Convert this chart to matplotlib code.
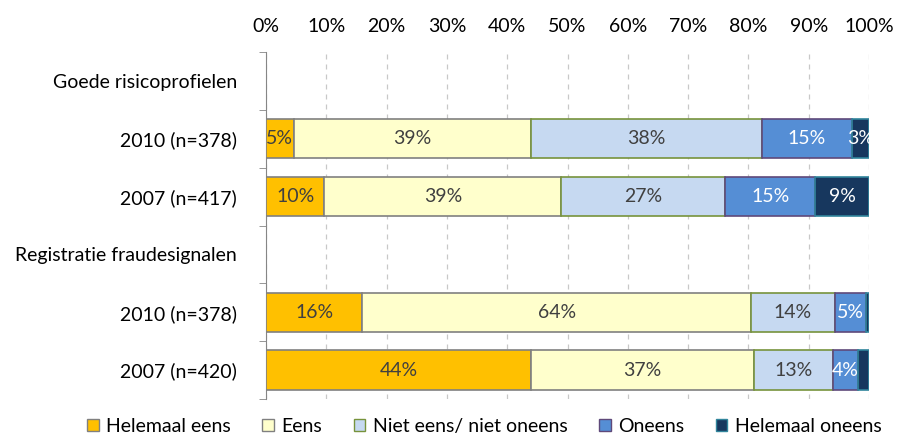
import numpy as np
import matplotlib
matplotlib.use("Agg")
from matplotlib import pyplot as plt
from matplotlib.patches import Patch

plt.rcParams['font.family'] = ['Lato', 'DejaVu Sans']

# rows from top to bottom; header rows have no bar
row_labels = ["Goede risicoprofielen", "2010 (n=378)", "2007 (n=417)",
              "Registratie fraudesignalen", "2010 (n=378)", "2007 (n=420)"]
series = ["Helemaal eens", "Eens", "Niet eens/ niet oneens", "Oneens", "Helemaal oneens"]

helemaal_eens = [0, 4.6, 9.7, 0, 16.0, 43.9]
eens = [0, 39.4, 39.3, 0, 64.4, 37.1]
niet_eens = [0, 38.3, 27.1, 0, 13.9, 13.0]
oneens = [0, 14.8, 15.0, 0, 5.2, 4.1]
helemaal_oneens = [0, 2.9, 8.9, 0, 0.5, 1.9]

fills = ["#FFC000", "#FFFFCC", "#C6D9F1", "#558ED5", "#17375E"]
edges = ["#808080", "#808080", "#77933C", "#5F497A", "#31859C"]
text_colors = ["#404040", "#404040", "#404040", "white", "white"]

values = [helemaal_eens, eens, niet_eens, oneens, helemaal_oneens]

fig = plt.figure(figsize=(8.97, 4.37), dpi=100)
ax = fig.add_axes([266 / 897, 1 - 399 / 437, 603 / 897, 347 / 437])

y = np.arange(len(row_labels))
has_bar = np.array([sum(v[i] for v in values) > 0 for i in y])
left = np.zeros(len(row_labels))
for vals, name, fc, ec, tc in zip(values, series, fills, edges, text_colors):
    vals = np.array(vals) / 100.0
    ax.barh(y[has_bar], vals[has_bar], left=left[has_bar], height=0.68, color=fc,
            edgecolor=ec, linewidth=1.2, label=name, zorder=3)
    for yi, v, l in zip(y, vals, left):
        if v * 100 >= 2.5:
            ax.text(l + v / 2, yi, f"{round(v * 100):d}%",
                    ha="center", va="center", color=tc, fontsize=14, zorder=4)
    left += vals

ax.set_xlim(0, 1)
ax.set_ylim(len(row_labels) - 0.5, -0.5)
ax.set_xticks(np.linspace(0, 1, 11))
ax.set_xticklabels([f"{i}%" for i in range(0, 101, 10)], fontsize=14)
ax.xaxis.tick_top()
ax.tick_params(axis="x", length=0, pad=12)
ax.set_yticks(y)
ax.set_yticklabels(row_labels, fontsize=14)
ax.tick_params(axis="y", length=0, pad=21)
ax.set_yticks(np.arange(-0.5, len(row_labels), 1), minor=True)
ax.tick_params(axis="y", which="minor", length=5, color="#868686")

ax.grid(axis="x", linestyle=(0, (4, 4)), color="#C8C8C8", linewidth=0.9, zorder=0)
for s in ["top", "right", "bottom"]:
    ax.spines[s].set_visible(False)
ax.spines["left"].set_color("#868686")

handles = [Patch(facecolor=fc, edgecolor=ec, label=n) for n, fc, ec in zip(series, fills, edges)]
fig.legend(handles=handles, loc="lower center", ncol=5, frameon=False, fontsize=14,
           bbox_to_anchor=(0.54, -0.035), handlelength=0.6, handleheight=0.6,
           handletextpad=0.4, columnspacing=1.6)

fig.savefig("out.png", dpi=100)
